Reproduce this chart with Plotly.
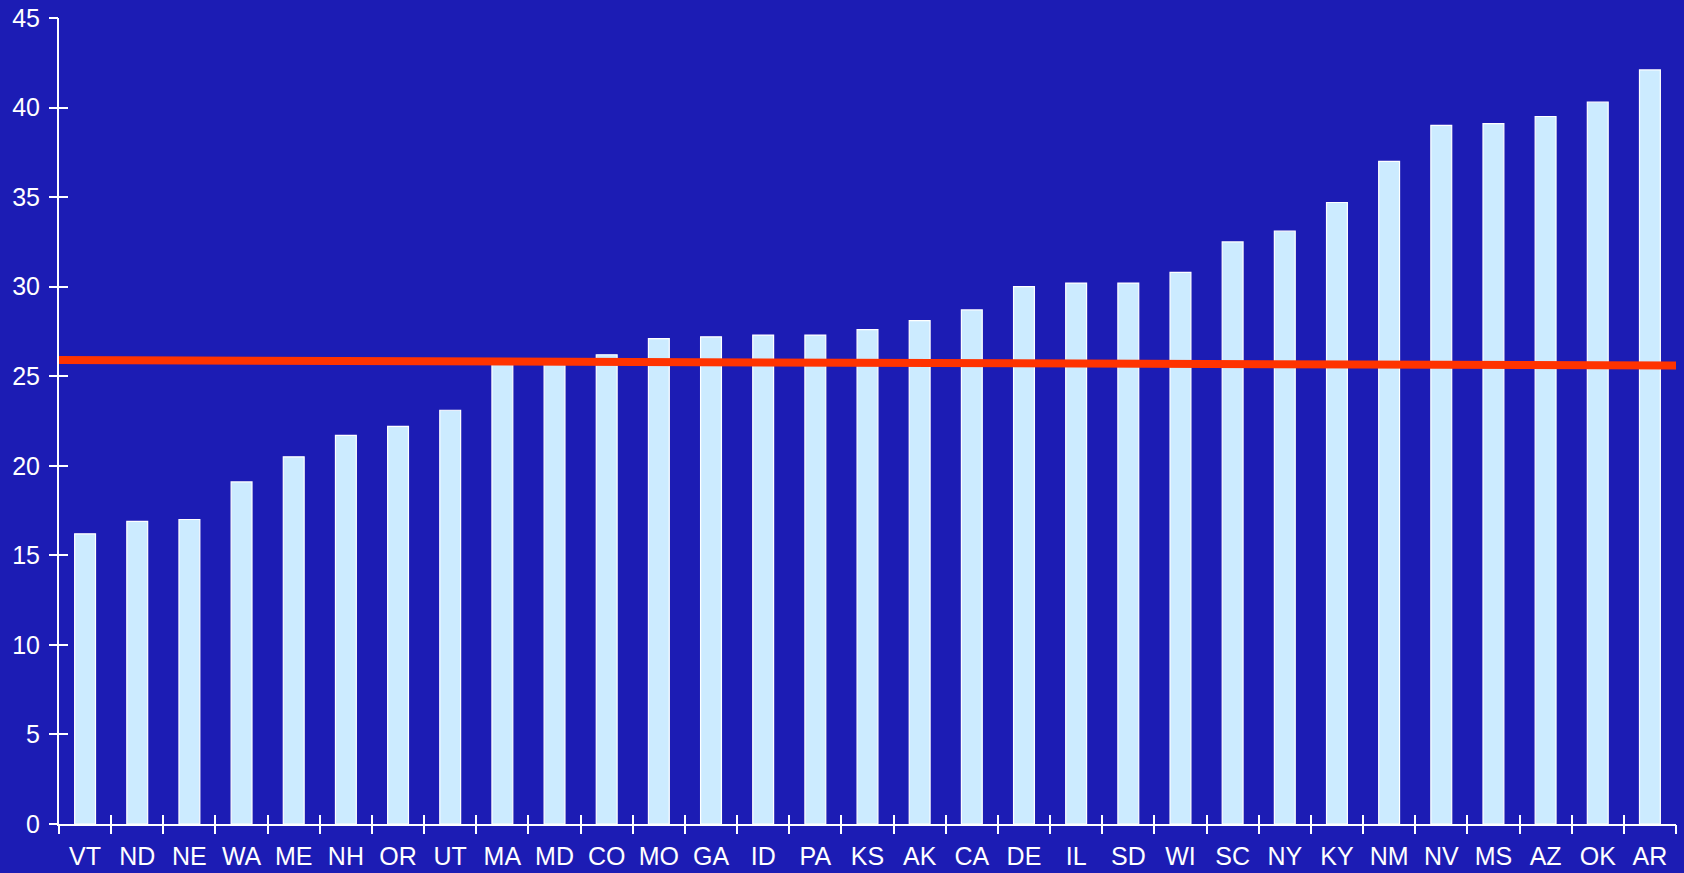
import plotly.graph_objects as go

states = ["VT", "ND", "NE", "WA", "ME", "NH", "OR", "UT", "MA", "MD", "CO", "MO", "GA", "ID", "PA",
          "KS", "AK", "CA", "DE", "IL", "SD", "WI", "SC", "NY", "KY", "NM", "NV", "MS", "AZ", "OK", "AR"]
values = [16.2, 16.9, 17.0, 19.1, 20.5, 21.7, 22.2, 23.1, 25.8, 25.8, 26.2, 27.1, 27.2, 27.3, 27.3,
          27.6, 28.1, 28.7, 30.0, 30.2, 30.2, 30.8, 32.5, 33.1, 34.7, 37.0, 39.0, 39.1, 39.5, 40.3, 42.1]
trend_x = [-0.5, 30.5]
trend_y = [25.9, 25.6]
y_ticks = [0, 5, 10, 15, 20, 25, 30, 35, 40, 45]

idx = list(range(len(states)))
bounds = [i - 0.5 for i in range(len(states) + 1)]

BG = "#1C1CB4"
FONT = dict(family="Liberation Sans, Arial, sans-serif", size=25, color="white")
XR = [-0.5, len(states) - 0.5]
YR = [0, 45]

fig = go.Figure()
fig.add_trace(go.Bar(x=idx, y=values, width=0.4,
                     marker=dict(color="#CCEBFF", line=dict(color="white", width=1.2)),
                     hoverinfo="x+y", showlegend=False, xaxis="x", yaxis="y"))
fig.add_trace(go.Scatter(x=trend_x, y=trend_y, mode="lines",
                         line=dict(color="#FF3300", width=8),
                         showlegend=False, xaxis="x2", yaxis="y2"))
fig.add_trace(go.Scatter(x=trend_x, y=trend_y, mode="lines", line=dict(width=0),
                         opacity=0, showlegend=False, hoverinfo="skip",
                         xaxis="x3", yaxis="y3"))

common_x = dict(range=XR, showgrid=False, zeroline=False, fixedrange=True, automargin=False)
common_y = dict(range=YR, showgrid=False, zeroline=False, fixedrange=True, automargin=False)

fig.update_layout(
    width=1684, height=873,
    paper_bgcolor=BG, plot_bgcolor=BG,
    margin=dict(l=59, r=8, t=18, b=49, autoexpand=False),
    bargap=0.6,
    xaxis=dict(**common_x, tickmode="array", tickvals=idx, ticktext=states, ticks="",
               showline=True, linecolor="white", linewidth=2, tickfont=FONT,
               ticklabelstandoff=9),
    yaxis=dict(**common_y, tickmode="array", tickvals=y_ticks, ticks="",
               showline=True, linecolor="white", linewidth=2, tickfont=FONT,
               ticklabelstandoff=12),
    xaxis2=dict(**common_x, overlaying="x", anchor="y2", tickmode="array", tickvals=bounds,
                ticks="outside", ticklen=9, tickwidth=2, tickcolor="white",
                showticklabels=False, showline=False),
    yaxis2=dict(**common_y, overlaying="y", anchor="x2", tickmode="array", tickvals=y_ticks,
                ticks="outside", ticklen=9, tickwidth=2, tickcolor="white",
                showticklabels=False, showline=False),
    xaxis3=dict(**common_x, overlaying="x", anchor="y3", tickmode="array", tickvals=bounds,
                ticks="inside", ticklen=9, tickwidth=2, tickcolor="white",
                showticklabels=False, showline=False),
    yaxis3=dict(**common_y, overlaying="y", anchor="x3", tickmode="array", tickvals=y_ticks,
                ticks="inside", ticklen=9, tickwidth=2, tickcolor="white",
                showticklabels=False, showline=False),
)

fig.write_html("out.html", config={"displayModeBar": False},
               post_script="document.body.style.margin='0';document.body.style.background='" + BG + "';")
